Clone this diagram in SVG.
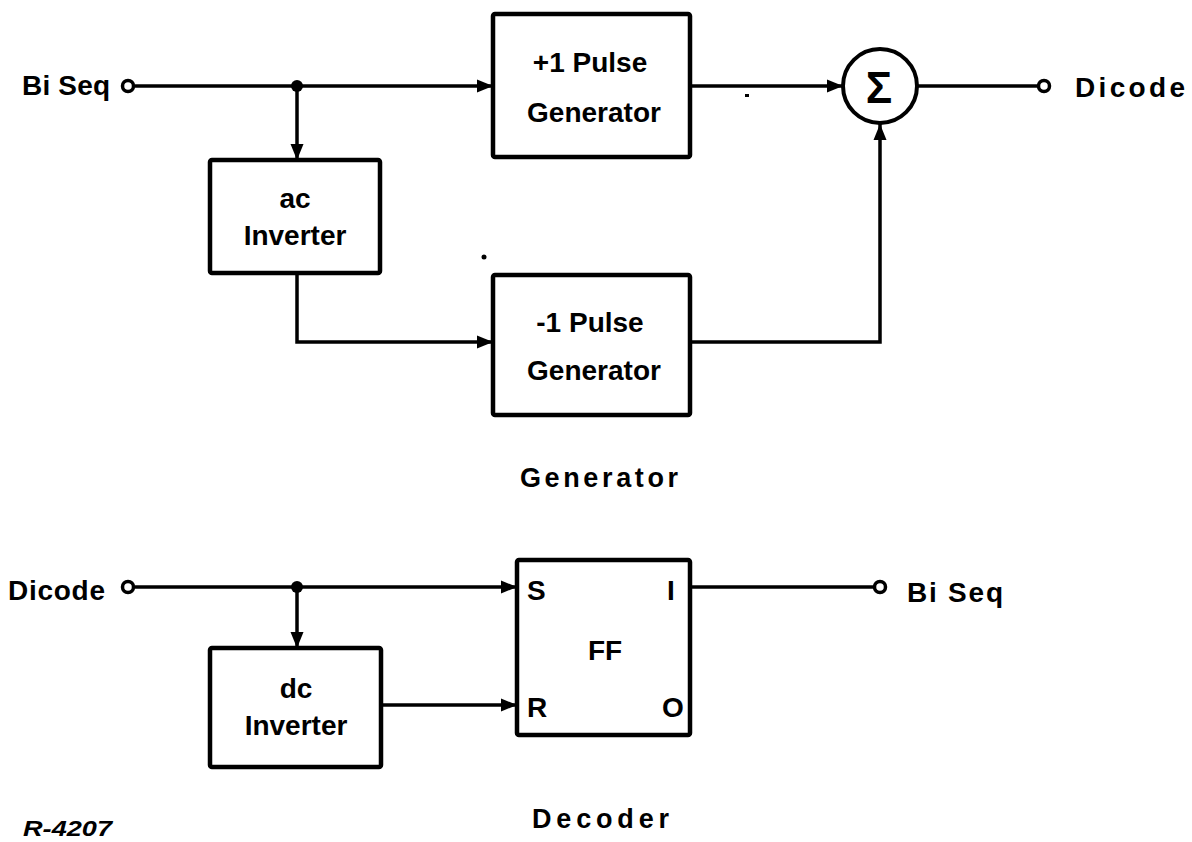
<svg xmlns="http://www.w3.org/2000/svg" width="1192" height="842" viewBox="0 0 1192 842">
  <defs>
    <style>
      .box { fill: #fff; stroke: #000; stroke-width: 4.5; stroke-linejoin: round; }
      .wire { fill: none; stroke: #000; stroke-width: 3.5; }
      .term { fill: #fff; stroke: #000; stroke-width: 3.5; }
      .dot { fill: #000; }
      .lbl { font-family: "Liberation Sans", Arial, sans-serif; font-weight: bold; font-size: 28px; fill: #000; }
      .mid { text-anchor: middle; }
      .cap { font-family: "Liberation Sans", Arial, sans-serif; font-weight: bold; font-size: 27px; fill: #000; }
      .tag { font-family: "Liberation Sans", Arial, sans-serif; font-weight: bold; font-style: italic; font-size: 22px; fill: #000; }
    </style>
    <marker id="arr" markerUnits="userSpaceOnUse" markerWidth="18" markerHeight="16" refX="16" refY="8" orient="auto">
      <path d="M0,1.5 L16,8 L0,14.5 Z" fill="#000"/>
    </marker>
  </defs>
  <rect x="0" y="0" width="1192" height="842" fill="#fff"/>

  <!-- Connectors -->
  <g id="connectors">
    <path class="wire" d="M135,86 H493" marker-end="url(#arr)"/>
    <path class="wire" d="M297,86 V160" marker-end="url(#arr)"/>
    <path class="wire" d="M297,273 V342 H493" marker-end="url(#arr)"/>
    <path class="wire" d="M690,86 H843" marker-end="url(#arr)"/>
    <path class="wire" d="M690,342 H880 V124" marker-end="url(#arr)"/>
    <path class="wire" d="M917,86 H1038"/>
    <path class="wire" d="M135,587 H517" marker-end="url(#arr)"/>
    <path class="wire" d="M297,587 V648" marker-end="url(#arr)"/>
    <path class="wire" d="M381,705 H517" marker-end="url(#arr)"/>
    <path class="wire" d="M690,587 H874"/>
    <circle class="dot" cx="297" cy="86" r="6"/>
    <circle class="dot" cx="297" cy="587" r="6"/>
  </g>

  <!-- Generator -->
  <g id="in-biseq">
    <text class="lbl" x="22" y="95" textLength="88" lengthAdjust="spacing">Bi Seq</text>
    <circle class="term" cx="128" cy="86" r="5.5"/>
  </g>
  <g id="ac-inverter">
    <rect class="box" x="210" y="160" width="170" height="113" rx="2"/>
    <text class="lbl mid" x="295" y="208">ac</text>
    <text class="lbl mid" x="295" y="245">Inverter</text>
  </g>
  <g id="plus1-pulse-gen">
    <rect class="box" x="493" y="14" width="197" height="143" rx="2"/>
    <text class="lbl mid" x="590" y="72">+1 Pulse</text>
    <text class="lbl mid" x="594" y="122">Generator</text>
  </g>
  <g id="minus1-pulse-gen">
    <rect class="box" x="493" y="275" width="197" height="140" rx="2"/>
    <text class="lbl mid" x="590" y="332">-1 Pulse</text>
    <text class="lbl mid" x="594" y="380">Generator</text>
  </g>
  <g id="sum">
    <circle cx="880" cy="86" r="37" fill="#fff" stroke="#000" stroke-width="4"/>
    <text x="879" y="103" text-anchor="middle" font-family="Liberation Sans, Arial, sans-serif" font-weight="bold" font-size="44">Σ</text>
  </g>
  <g id="out-dicode">
    <circle class="term" cx="1044" cy="86" r="5.5"/>
    <text class="lbl" x="1075" y="97" textLength="110" lengthAdjust="spacing">Dicode</text>
  </g>
  <g id="caption-generator">
    <text class="cap" x="520" y="487" textLength="158" lengthAdjust="spacing">Generator</text>
  </g>

  <!-- Decoder -->
  <g id="in-dicode">
    <text class="lbl" x="8" y="600" textLength="97" lengthAdjust="spacing">Dicode</text>
    <circle class="term" cx="128" cy="587" r="5.5"/>
  </g>
  <g id="dc-inverter">
    <rect class="box" x="210" y="648" width="171" height="119" rx="2"/>
    <text class="lbl mid" x="296" y="698">dc</text>
    <text class="lbl mid" x="296" y="735">Inverter</text>
  </g>
  <g id="ff">
    <rect class="box" x="517" y="560" width="173" height="175" rx="2"/>
    <text class="lbl" x="527" y="600">S</text>
    <text class="lbl" x="667" y="600">I</text>
    <text class="lbl mid" x="605" y="660">FF</text>
    <text class="lbl" x="527" y="717">R</text>
    <text class="lbl" x="662" y="717">O</text>
  </g>
  <g id="out-biseq">
    <circle class="term" cx="880" cy="587" r="5.5"/>
    <text class="lbl" x="907" y="602" textLength="96" lengthAdjust="spacing">Bi Seq</text>
  </g>
  <g id="caption-decoder">
    <text class="cap" x="532" y="828" textLength="137" lengthAdjust="spacing">Decoder</text>
  </g>

  <g id="figure-number">
    <text class="tag" x="23" y="836" textLength="89" lengthAdjust="spacingAndGlyphs">R-4207</text>
  </g>

  <g id="specks">
    <circle cx="484" cy="257" r="2.5" fill="#000"/>
    <rect x="745" y="94" width="4" height="3" fill="#000"/>
  </g>
</svg>
